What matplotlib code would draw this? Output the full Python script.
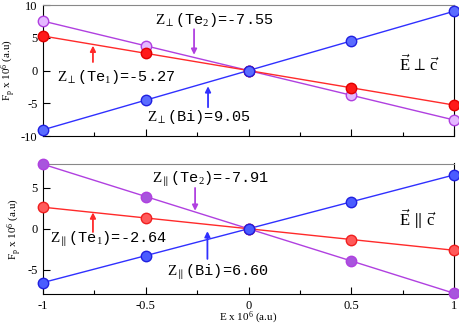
"""Born effective charges: force vs applied field, two field orientations."""
import matplotlib
import matplotlib.pyplot as plt
from matplotlib.ticker import MultipleLocator

matplotlib.use("Agg")

plt.rcParams["mathtext.fontset"] = "custom"
plt.rcParams["mathtext.rm"] = "Liberation Serif"
plt.rcParams["mathtext.it"] = "Liberation Serif:italic"

# field values (x 10^6 a.u)
field = [-1.0, -0.5, 0.0, 0.5, 1.0]

# E perpendicular to c
perp_bi = [-9.05, -4.52, 0.0, 4.52, 9.05]
perp_te1 = [5.27, 2.63, 0.0, -2.63, -5.27]
perp_te2 = [7.55, 3.77, 0.0, -3.77, -7.55]

# E parallel to c
par_bi = [-6.60, -3.30, 0.0, 3.30, 6.60]
par_te1 = [2.64, 1.32, 0.0, -1.32, -2.64]
par_te2 = [7.91, 3.95, 0.0, -3.95, -7.91]

x_ticks = [-1, -0.5, 0, 0.5, 1]
x_tick_labels = ["-1", "-0.5", "0", "0.5", "1"]

BLUE = "#3030ff"
RED = "#ff2a2a"
PURPLE = "#b040e0"
MONO = "Liberation Mono"
SERIF = "Liberation Serif"

fig = plt.figure(figsize=(4.6, 3.27), dpi=100)
ax_top = fig.add_axes([0.0935, 0.584, 0.8935, 0.4006])
ax_bot = fig.add_axes([0.0935, 0.101, 0.8935, 0.399])


def style_axes(ax, ylim, yticks, show_xlabels):
    ax.set_xlim(-1, 1)
    ax.set_ylim(*ylim)
    ax.set_yticks(yticks)
    ax.set_yticklabels([f"{t:g}" for t in yticks], family=SERIF, fontsize=9)
    ax.set_xticks(x_ticks)
    ax.xaxis.set_minor_locator(MultipleLocator(0.25))
    if show_xlabels:
        ax.set_xticklabels(x_tick_labels, family=SERIF, fontsize=9)
    else:
        ax.set_xticklabels([])
    ax.tick_params(which="major", direction="in", length=5, width=0.8, pad=4)
    ax.tick_params(which="minor", direction="in", length=3, width=0.8)
    ax.spines["top"].set_color("#888888")
    for side in ("left", "right", "bottom"):
        ax.spines[side].set_color("black")
    ax.set_ylabel(r"F$_\mathrm{p}$ x 10$^\mathrm{6}$ (a.u)", family=SERIF,
                  fontsize=8, labelpad=2)


def draw_series(ax, y, line, face, edge):
    ax.plot(field, y, color=line, lw=1.0, zorder=2)
    ax.plot(field, y, ls="none", marker="o", ms=7.5, mfc=face, mec=edge,
            mew=1.0, zorder=3, clip_on=False)


def arrow(ax, x, y0, y1, color):
    ax.annotate("", xy=(x, y1), xytext=(x, y0),
                arrowprops=dict(arrowstyle="-|>", color=color, lw=1.3,
                                mutation_scale=8, shrinkA=0, shrinkB=0))


# ---- top panel: E perpendicular to c
draw_series(ax_top, perp_te2, PURPLE, "#e4b8ff", PURPLE)
draw_series(ax_top, perp_te1, RED, "#ff1a1a", "#e00000")
draw_series(ax_top, perp_bi, BLUE, "#5a6cff", "#2020e0")
style_axes(ax_top, (-10, 10), [-10, -5, 0, 5, 10], False)

ax_top.text(-0.455, 7.7, r"$\mathrm{Z}_{\perp}$(Te$_\mathrm{2}$)=-7.55",
            family=MONO, fontsize=11, va="center")
arrow(ax_top, -0.265, 6.3, 2.4, PURPLE)
ax_top.text(-0.93, -1.0, r"$\mathrm{Z}_{\perp}$(Te$_\mathrm{1}$)=-5.27",
            family=MONO, fontsize=11, va="center")
arrow(ax_top, -0.757, 1.3, 3.8, RED)
ax_top.text(-0.494, -7.1, r"$\mathrm{Z}_{\perp}$(Bi)=9.05",
            family=MONO, fontsize=11, va="center")
arrow(ax_top, -0.197, -5.6, -2.4, BLUE)
ax_top.text(0.73, 0.9, r"$\vec{\mathrm{E}}\,\perp\,\vec{\mathrm{c}}$",
            fontsize=12, va="center")

# ---- bottom panel: E parallel to c
draw_series(ax_bot, par_te2, PURPLE, "#a855dd", PURPLE)
draw_series(ax_bot, par_te1, RED, "#ff5a5a", "#f02020")
draw_series(ax_bot, par_bi, BLUE, "#4a5cff", "#2020e0")
style_axes(ax_bot, (-8, 8), [-5, 0, 5], True)
ax_bot.set_xlabel(r"E x 10$^\mathrm{6}$ (a.u)", family=SERIF, fontsize=8,
                  labelpad=-1)

ax_bot.text(-0.47, 6.0, r"$\mathrm{Z}_{\parallel}$(Te$_\mathrm{2}$)=-7.91",
            family=MONO, fontsize=11, va="center")
arrow(ax_bot, -0.26, 5.0, 2.2, PURPLE)
ax_bot.text(-0.966, -1.3, r"$\mathrm{Z}_{\parallel}$(Te$_\mathrm{1}$)=-2.64",
            family=MONO, fontsize=11, va="center")
arrow(ax_bot, -0.757, -0.4, 2.0, RED)
ax_bot.text(-0.397, -5.4, r"$\mathrm{Z}_{\parallel}$(Bi)=6.60",
            family=MONO, fontsize=11, va="center")
arrow(ax_bot, -0.20, -3.7, -0.3, BLUE)
ax_bot.text(0.73, 1.2, r"$\vec{\mathrm{E}}\,\parallel\,\vec{\mathrm{c}}$",
            fontsize=12, va="center")

fig.savefig("out.png", dpi=100, facecolor="white")
